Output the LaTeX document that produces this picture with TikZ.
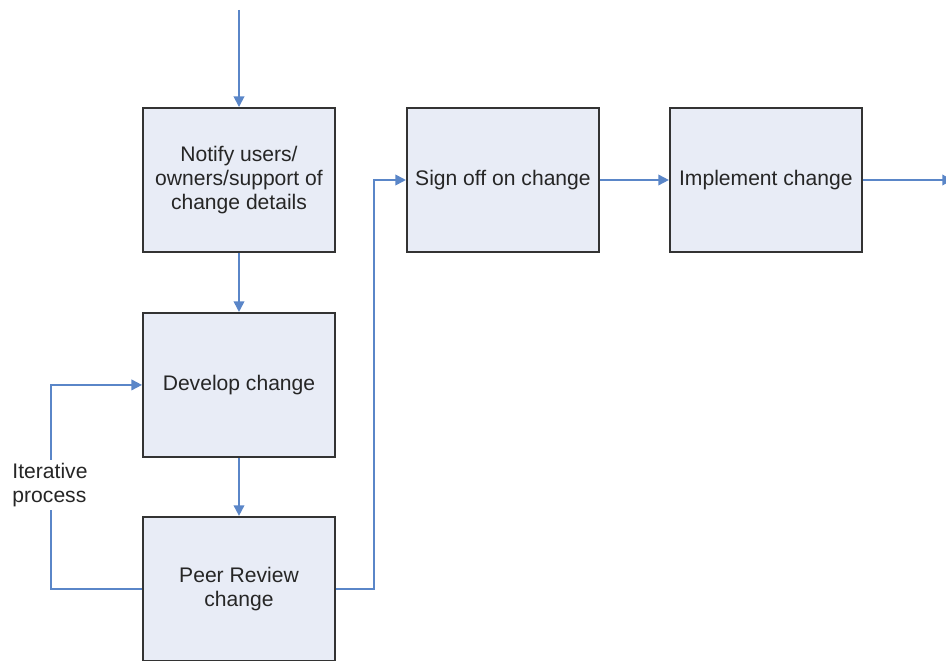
\documentclass[tikz,border=0pt]{standalone}
\usepackage{fontspec}
\setmainfont{Liberation Sans}
\usetikzlibrary{positioning,arrows.meta}
\definecolor{boxfill}{HTML}{E8ECF6}
\definecolor{flowline}{HTML}{5A86C8}
\tikzset{
  stepbox/.style={draw=black!80,line width=1.1pt,fill=boxfill,text=black!85,
    minimum width=3.84cm,minimum height=2.88cm,align=center,
    font=\fontsize{12}{13.7}\selectfont},
  flow/.style={draw=flowline,line width=1pt,->,>={Triangle[length=6pt,width=6pt]}}
}
\begin{document}
\begin{tikzpicture}
    \useasboundingbox (0,0) rectangle (18.92,-13.2);
    \clip (0,0) rectangle (18.92,-13.2);
    \node [stepbox] (notify) at (4.78,-3.6) {Notify users/\\owners/support of\\change details};
    \node [stepbox,below=1.18cm of notify] (develop) {Develop change};
    \node [stepbox,below=1.16cm of develop] (review) {Peer Review\\change};
    \node [stepbox,right=1.40cm of notify] (signoff) {Sign off on change};
    \node [stepbox,right=1.38cm of signoff] (implement) {Implement change};
    \coordinate (start) at (4.78,-0.2);
    \coordinate [right=1.8cm of implement.east] (finish);
    \draw [flow] (start) -- (notify);
    \draw [flow] (notify) -- (develop);
    \draw [flow] (develop) -- (review);
    % loop back for the iteration
    \draw [flow] (review.west) -- ++(-1.82,0) |- (develop.west);
    \node [fill=white,align=left,text=black!85,font=\fontsize{12}{13.7}\selectfont,inner sep=2pt] (iter) at (1.0,-9.7) {Iterative\\process};
    \draw [flow] (review.east) -- ++(0.76,0) |- (signoff.west);
    \draw [flow] (signoff) -- (implement);
    \draw [flow] (implement) -- (finish);
\end{tikzpicture}
\end{document}
